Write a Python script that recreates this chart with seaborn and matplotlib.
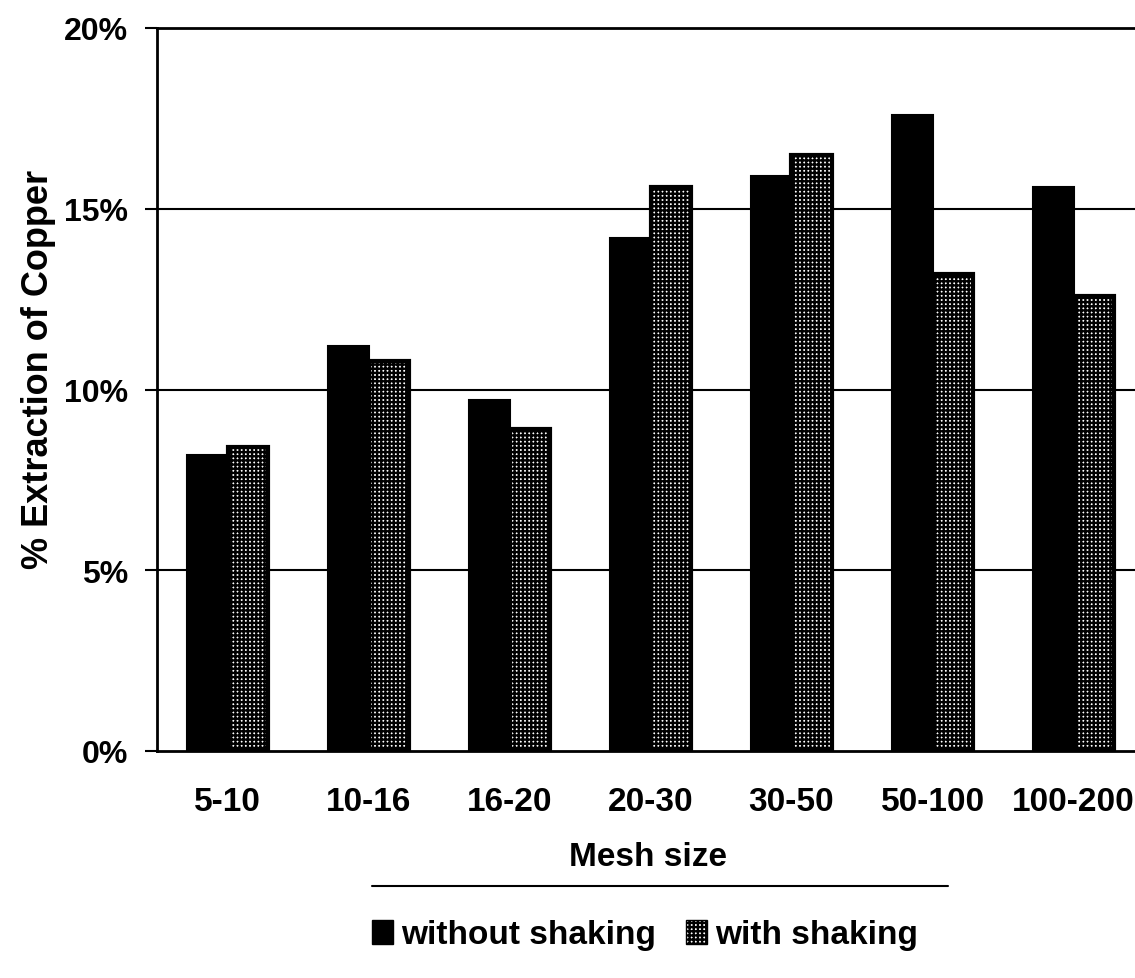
import matplotlib
matplotlib.use("Agg")
import matplotlib.pyplot as plt
from matplotlib.lines import Line2D
from matplotlib.patches import Patch
import seaborn as sns
import pandas as pd

mesh_sizes = ["5-10", "10-16", "16-20", "20-30", "30-50", "50-100", "100-200"]
without_shaking = [8.2, 11.2, 9.7, 14.2, 15.9, 17.6, 15.6]
with_shaking = [8.4, 10.8, 8.9, 15.6, 16.5, 13.2, 12.6]
series_names = ["without shaking", "with shaking"]
y_ticks = [0, 5, 10, 15, 20]
y_tick_labels = ["0%", "5%", "10%", "15%", "20%"]

df = pd.DataFrame({
    "Mesh size": mesh_sizes * 2,
    "value": without_shaking + with_shaking,
    "series": [series_names[0]] * len(mesh_sizes) + [series_names[1]] * len(mesh_sizes),
})

sns.set_theme(style="white")
plt.rcParams["font.family"] = ["Liberation Sans", "DejaVu Sans"]
plt.rcParams["font.weight"] = "bold"
plt.rcParams["hatch.linewidth"] = 1.7
for key in ["text.color", "axes.labelcolor", "xtick.color", "ytick.color"]:
    plt.rcParams[key] = "black"

FS = 24
W, H = 1135, 979
left, right, top, bottom = 157, 1144, 29, 752

fig = plt.figure(figsize=(W / 100, H / 100), dpi=100)
ax = fig.add_axes([left / W, 1 - bottom / H, (right - left) / W, (bottom - top) / H])

sns.barplot(data=df, x="Mesh size", y="value", hue="series",
            palette=["black", "white"], width=0.58, ax=ax,
            legend=False, saturation=1)

for patch in ax.containers[0]:
    patch.set_edgecolor("black")
    patch.set_linewidth(1.5)
for patch in ax.containers[1]:
    patch.set_facecolor("white")
    patch.set_edgecolor("black")
    patch.set_hatch("++++")
    patch.set_linewidth(3)

ax.set_ylim(0, 20)
ax.set_xlim(-0.5, 6.5)
ax.set_yticks(y_ticks)
ax.set_yticklabels(y_tick_labels, fontsize=23, fontweight="bold")
ax.tick_params(axis="y", length=9, width=1.5, color="black", left=True, pad=12)
ax.tick_params(axis="x", length=0, labelsize=FS, pad=25)
for lab in ax.get_xticklabels():
    lab.set_fontweight("bold")

for y in y_ticks[1:-1]:
    ax.axhline(y, color="black", linewidth=1.5, zorder=0)

for side in ["left", "top", "bottom"]:
    ax.spines[side].set_visible(True)
    ax.spines[side].set_color("black")
    ax.spines[side].set_linewidth(2)
ax.spines["right"].set_visible(False)

ax.set_xlabel("Mesh size", fontsize=FS, fontweight="bold")
ax.xaxis.set_label_coords((648 - left) / (right - left), -(873 - bottom) / (bottom - top))
ax.xaxis.label.set_va("bottom")
ax.set_ylabel("% Extraction of Copper", fontsize=26, fontweight="bold")
ax.yaxis.set_label_coords(-(left - 56) / (right - left), (bottom - 369) / (bottom - top))

# rule between the axis title and the legend
fig.add_artist(Line2D([372 / W, 948 / W], [1 - 887 / H, 1 - 887 / H],
                      color="black", linewidth=1.5))

handles = [Patch(facecolor="black", edgecolor="black", label=series_names[0]),
           Patch(facecolor="white", edgecolor="black", hatch="++++", label=series_names[1])]
fig.legend(handles=handles, loc="center", bbox_to_anchor=(645 / W, 1 - 936 / H),
           ncol=2, frameon=False, handlelength=0.62, handleheight=0.7,
           handletextpad=0.25, columnspacing=0.9, prop={"weight": "bold", "size": FS})

fig.savefig("out.png", dpi=100)
